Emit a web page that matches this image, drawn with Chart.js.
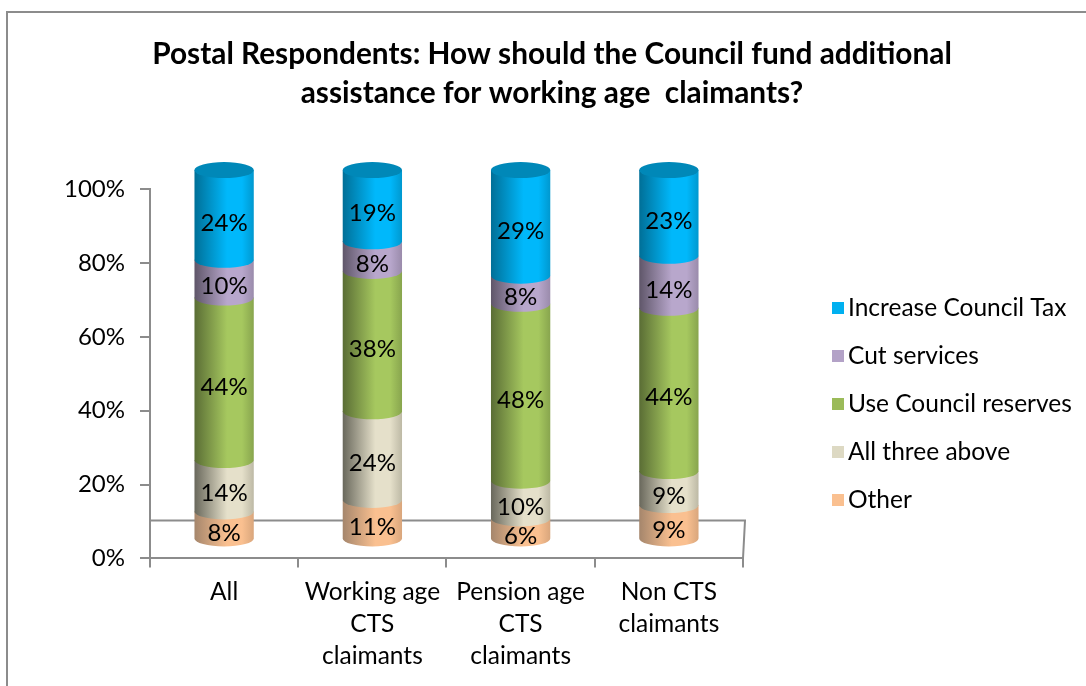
<!DOCTYPE html>
<html lang="en">
<head>
  <meta charset="UTF-8">
  <title>Postal Respondents</title>
  <script src="https://cdn.jsdelivr.net/npm/chart.js"></script>
  <style>
    html, body { margin: 0; padding: 0; background: #fff; }
    canvas { display: block; }
  </style>
</head>
<body>
  <canvas id="chart" width="1086" height="686"></canvas>
  <script>
    const titleLines = ['Postal Respondents: How should the Council fund additional', 'assistance for working age  claimants?'];
    const categories = ['All', ['Working age', 'CTS', 'claimants'], ['Pension age', 'CTS', 'claimants'], ['Non CTS', 'claimants']];
    const other = [7.6, 10.7, 5.7, 9.3];
    const allThree = [13.9, 24, 10.2, 9.2];
    const reserves = [44, 38, 47.9, 44.2];
    const cutServices = [10.2, 8, 7.6, 14.1];
    const councilTax = [24.3, 19.3, 28.6, 23.2];
    const yTicks = [0, 20, 40, 60, 80, 100];

    const font = 'Lato, sans-serif';
    const depth = 19;  // the 3d look lifts the bars off the axis
    const capHeight = 8;

    // dark left edge, bright middle, slightly dark right edge
    function shade(ctx, x0, x1, c) {
      const g = ctx.createLinearGradient(x0, 0, x1, 0);
      g.addColorStop(0, c[0]);
      g.addColorStop(0.55, c[1]);
      g.addColorStop(0.8, c[1]);
      g.addColorStop(1, c[2]);
      return g;
    }

    const cylinders = {
      id: 'cylinders',
      beforeDatasetsDraw(chart) {
        const ctx = chart.ctx;
        const { left, right, bottom } = chart.chartArea;
        // floor of the 3d box
        ctx.save();
        ctx.strokeStyle = '#8c8c8c';
        ctx.lineWidth = 2;
        ctx.beginPath();
        ctx.moveTo(left, bottom - depth * 2);
        ctx.lineTo(right + 2, bottom - depth * 2);
        ctx.lineTo(right, bottom);
        ctx.stroke();

        chart.data.datasets.forEach((ds, i) => {
          chart.getDatasetMeta(i).data.forEach(bar => {
            const p = bar.getProps(['x', 'y', 'base', 'width'], true);
            const rx = p.width / 2;
            const x0 = p.x - rx, x1 = p.x + rx;
            const yTop = p.y - depth, yBase = p.base - depth;
            ctx.fillStyle = shade(ctx, x0, x1, ds.shades);
            ctx.beginPath();
            ctx.moveTo(x0, yTop);
            ctx.lineTo(x1, yTop);
            ctx.lineTo(x1, yBase);
            ctx.ellipse(p.x, yBase, rx, capHeight, 0, 0, Math.PI);
            ctx.closePath();
            ctx.fill();
            if (i === chart.data.datasets.length - 1) {
              ctx.fillStyle = ds.capColor;
              ctx.beginPath();
              ctx.ellipse(p.x, yTop, rx, capHeight, 0, 0, Math.PI * 2);
              ctx.fill();
            }
          });
        });

        ctx.fillStyle = '#000';
        ctx.font = '24px ' + font;
        ctx.textAlign = 'center';
        ctx.textBaseline = 'middle';
        chart.data.datasets.forEach((ds, i) => {
          chart.getDatasetMeta(i).data.forEach((bar, j) => {
            const p = bar.getProps(['x', 'y', 'base'], true);
            ctx.fillText(Math.round(ds.data[j]) + '%', p.x, (p.y + p.base) / 2 - depth + 8);
          });
        });
        ctx.restore();
        return false;
      }
    };

    // outer frame and the legend, the built in one can't do the small gap after the box
    const frame = {
      id: 'frame',
      afterLayout(chart) {
        // title is centred on the whole picture, not on the padded plot
        chart.titleBlock.left = 18;
        chart.titleBlock.right = 1086;
      },
      beforeDraw(chart) {
        const ctx = chart.ctx;
        ctx.save();
        ctx.strokeStyle = '#8c8c8c';
        ctx.lineWidth = 2;
        ctx.beginPath();
        ctx.moveTo(7, 686);
        ctx.lineTo(7, 12);
        ctx.lineTo(1086, 12);
        ctx.stroke();
        ctx.restore();
      },
      afterDraw(chart) {
        const ctx = chart.ctx;
        ctx.save();
        ctx.font = '24.5px ' + font;
        ctx.textBaseline = 'middle';
        chart.data.datasets.slice().reverse().forEach((ds, i) => {
          const y = 308 + i * 48;
          ctx.fillStyle = ds.backgroundColor;
          ctx.fillRect(832, y - 6, 12, 12);
          ctx.fillStyle = '#000';
          ctx.fillText(ds.label, 848, y);
        });
        ctx.restore();
      }
    };

    new Chart(document.getElementById('chart'), {
      type: 'bar',
      data: {
        labels: categories,
        datasets: [
          { label: 'Other', data: other, backgroundColor: '#fac090', shades: ['#a5866c', '#fac090', '#d9a67c'] },
          { label: 'All three above', data: allThree, backgroundColor: '#ddd9c3', shades: ['#69685c', '#e5e0ca', '#bdb9a5'] },
          { label: 'Use Council reserves', data: reserves, backgroundColor: '#9bbb59', shades: ['#5a6d35', '#a6c85f', '#88a54e'] },
          { label: 'Cut services', data: cutServices, backgroundColor: '#b3a2c7', shades: ['#5f5669', '#b8a7cc', '#9a8bab'] },
          { label: 'Increase Council Tax', data: councilTax, backgroundColor: '#00b0f0', shades: ['#006f97', '#00b8fb', '#0098cf'], capColor: '#0088b8' }
        ]
      },
      options: {
        responsive: false,
        animation: false,
        barPercentage: 0.4,
        categoryPercentage: 1,
        layout: { padding: { left: 49, right: 343, top: 35, bottom: 5 } },
        plugins: {
          title: {
            display: true,
            text: titleLines,
            color: '#000',
            font: { family: font, size: 29.8, weight: 'bold', lineHeight: 1.31 },
            padding: { top: 0, bottom: 76 }
          },
          legend: { display: false },
          tooltip: { enabled: false }
        },
        scales: {
          x: {
            stacked: true,
            border: { color: '#8c8c8c', width: 2 },
            grid: { drawOnChartArea: false, color: '#8c8c8c', lineWidth: 2, tickLength: 9, offset: true },
            ticks: { color: '#000', font: { family: font, size: 24.5, lineHeight: 1.3 }, maxRotation: 0, autoSkip: false, padding: 9 }
          },
          y: {
            stacked: true,
            min: 0,
            max: 100,
            afterBuildTicks(axis) { axis.ticks = yTicks.map(v => ({ value: v })); },
            border: { color: '#8c8c8c', width: 2 },
            grid: { drawOnChartArea: false, color: '#8c8c8c', lineWidth: 2, tickLength: 10 },
            ticks: { color: '#000', font: { family: font, size: 24 }, padding: 15, callback: v => v + '%' }
          }
        }
      },
      plugins: [cylinders, frame]
    });
  </script>
</body>
</html>
